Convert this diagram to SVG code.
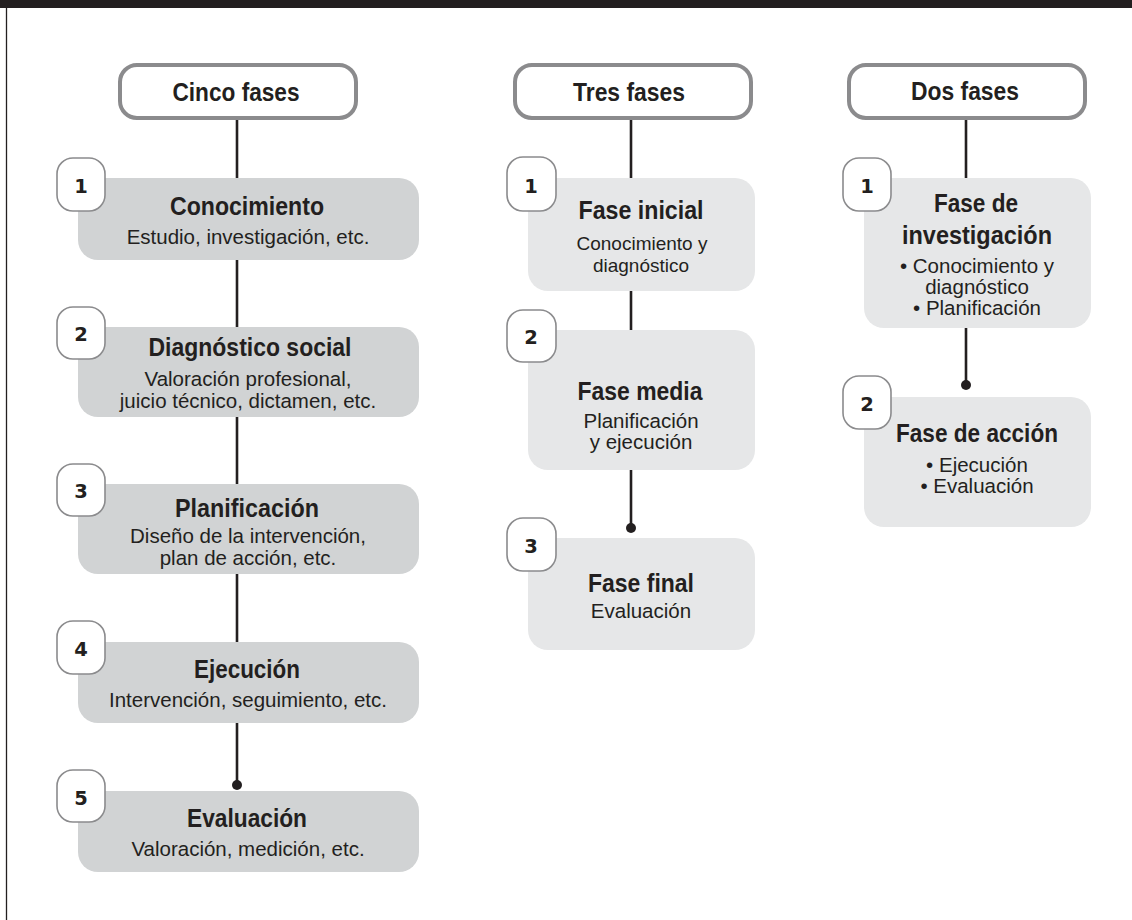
<svg xmlns="http://www.w3.org/2000/svg" width="1132" height="920" viewBox="0 0 1132 920">
<style>
.hdr{fill:#fff;stroke:#8b8b8d;stroke-width:4}
.box1{fill:#d1d3d4}
.box2{fill:#e6e7e8}
.badge{fill:#fff;stroke:#8b8b8d;stroke-width:1.6}
.conn{stroke:#231f20;stroke-width:2.6;fill:none}
.dot{fill:#231f20}
text{font-family:"Liberation Sans",Arial,sans-serif;fill:#231f20;text-anchor:middle}
.h{font-size:25px;font-weight:bold}
.t{font-size:25px;font-weight:bold}
.s{font-size:20.5px}
.s2{font-size:19px}
.n{font-family:"DejaVu Sans",sans-serif;font-size:19.5px;font-weight:bold}
</style>
<rect x="0" y="0" width="1132" height="8" fill="#231f20"/>
<line x1="6.5" y1="8" x2="6.5" y2="920" stroke="#231f20" stroke-width="1.3"/>

<g id="connectors">
<line class="conn" x1="237" y1="120" x2="237" y2="178"/>
<line class="conn" x1="237" y1="260" x2="237" y2="327"/>
<line class="conn" x1="237" y1="417" x2="237" y2="484"/>
<line class="conn" x1="237" y1="574" x2="237" y2="642"/>
<line class="conn" x1="237" y1="723" x2="237" y2="785"/>
<circle class="dot" cx="237" cy="785" r="5"/>
<line class="conn" x1="631" y1="120" x2="631" y2="178"/>
<line class="conn" x1="631" y1="291" x2="631" y2="330"/>
<line class="conn" x1="631" y1="470" x2="631" y2="528"/>
<circle class="dot" cx="631" cy="528" r="5"/>
<line class="conn" x1="966" y1="120" x2="966" y2="178"/>
<line class="conn" x1="966" y1="328" x2="966" y2="385"/>
<circle class="dot" cx="966" cy="385" r="5"/>
</g>

<g id="hdr-cinco"><rect class="hdr" x="120" y="65" width="236" height="53" rx="17"/><text class="h" x="236" y="101" textLength="127" lengthAdjust="spacingAndGlyphs">Cinco fases</text></g>
<g id="hdr-tres"><rect class="hdr" x="515" y="65" width="236" height="53" rx="17"/><text class="h" x="629" y="101" textLength="112" lengthAdjust="spacingAndGlyphs">Tres fases</text></g>
<g id="hdr-dos"><rect class="hdr" x="849" y="65" width="236" height="53" rx="17"/><text class="h" x="965" y="100" textLength="108" lengthAdjust="spacingAndGlyphs">Dos fases</text></g>

<g id="c5-1"><rect class="box1" x="78" y="178" width="341" height="82" rx="20"/>
<text class="t" x="247" y="215" textLength="154" lengthAdjust="spacingAndGlyphs">Conocimiento</text><text class="s" x="248" y="244">Estudio, investigación, etc.</text>
<rect class="badge" x="57" y="158" width="48" height="53" rx="16"/><text class="n" x="81" y="193">1</text></g>

<g id="c5-2"><rect class="box1" x="78" y="327" width="341" height="90" rx="20"/>
<text class="t" x="250" y="356" textLength="203" lengthAdjust="spacingAndGlyphs">Diagnóstico social</text><text class="s" x="248" y="386">Valoración profesional,</text><text class="s" x="248" y="408">juicio técnico, dictamen, etc.</text>
<rect class="badge" x="57" y="307" width="48" height="52" rx="16"/><text class="n" x="81" y="341">2</text></g>

<g id="c5-3"><rect class="box1" x="78" y="484" width="341" height="90" rx="20"/>
<text class="t" x="247" y="517" textLength="144" lengthAdjust="spacingAndGlyphs">Planificación</text><text class="s" x="248" y="543">Diseño de la intervención,</text><text class="s" x="248" y="565">plan de acción, etc.</text>
<rect class="badge" x="57" y="464" width="48" height="52" rx="16"/><text class="n" x="81" y="498">3</text></g>

<g id="c5-4"><rect class="box1" x="78" y="642" width="341" height="81" rx="20"/>
<text class="t" x="247" y="678" textLength="106" lengthAdjust="spacingAndGlyphs">Ejecución</text><text class="s" x="248" y="707">Intervención, seguimiento, etc.</text>
<rect class="badge" x="57" y="621" width="48" height="53" rx="16"/><text class="n" x="81" y="656">4</text></g>

<g id="c5-5"><rect class="box1" x="78" y="791" width="341" height="81" rx="20"/>
<text class="t" x="247" y="827" textLength="120" lengthAdjust="spacingAndGlyphs">Evaluación</text><text class="s" x="248" y="856">Valoración, medición, etc.</text>
<rect class="badge" x="57" y="770" width="48" height="52" rx="16"/><text class="n" x="81" y="805">5</text></g>

<g id="c3-1"><rect class="box2" x="528" y="178" width="227" height="113" rx="20"/>
<text class="t" x="641" y="219" textLength="125" lengthAdjust="spacingAndGlyphs">Fase inicial</text><text class="s2" x="642" y="250">Conocimiento y</text><text class="s2" x="641" y="272">diagnóstico</text>
<rect class="badge" x="507" y="157" width="49" height="54" rx="16"/><text class="n" x="531" y="193">1</text></g>

<g id="c3-2"><rect class="box2" x="528" y="330" width="227" height="140" rx="20"/>
<text class="t" x="640" y="400" textLength="125" lengthAdjust="spacingAndGlyphs">Fase media</text><text class="s" x="641" y="428">Planificación</text><text class="s" x="641" y="449">y ejecución</text>
<rect class="badge" x="507" y="310" width="49" height="52" rx="16"/><text class="n" x="531" y="344">2</text></g>

<g id="c3-3"><rect class="box2" x="528" y="538" width="227" height="112" rx="20"/>
<text class="t" x="641" y="592" textLength="106" lengthAdjust="spacingAndGlyphs">Fase final</text><text class="s" x="641" y="618">Evaluación</text>
<rect class="badge" x="507" y="518" width="49" height="53" rx="16"/><text class="n" x="531" y="553">3</text></g>

<g id="c2-1"><rect class="box2" x="864" y="178" width="227" height="150" rx="20"/>
<text class="t" x="976" y="212" textLength="84" lengthAdjust="spacingAndGlyphs">Fase de</text><text class="t" x="977" y="244" textLength="150" lengthAdjust="spacingAndGlyphs">investigación</text><text class="s" x="977" y="273">• Conocimiento y</text><text class="s" x="977" y="294">diagnóstico</text><text class="s" x="977" y="315">• Planificación</text>
<rect class="badge" x="843" y="158" width="48" height="53" rx="16"/><text class="n" x="867" y="193">1</text></g>

<g id="c2-2"><rect class="box2" x="864" y="397" width="227" height="130" rx="20"/>
<text class="t" x="977" y="442" textLength="162" lengthAdjust="spacingAndGlyphs">Fase de acción</text><text class="s" x="977" y="472">• Ejecución</text><text class="s" x="977" y="493">• Evaluación</text>
<rect class="badge" x="843" y="376" width="48" height="53" rx="16"/><text class="n" x="867" y="411">2</text></g>
</svg>
